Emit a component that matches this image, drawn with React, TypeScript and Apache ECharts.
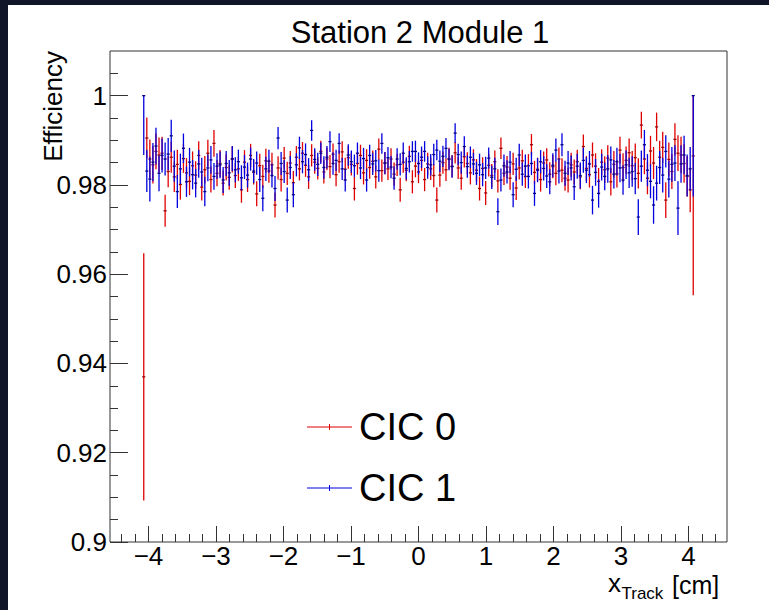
import React, { useEffect, useRef } from "react";
import * as echarts from "echarts";

const title = "Station 2 Module 1";
const seriesNames = ["CIC 0", "CIC 1"];
const seriesColors = ["#e00000", "#0000e0"];
const markColors = ["#9a0000", "#00008a"];

const binLo = -4.07;
const binHi = 4.07;

const xMajorTicks = [-4, -3, -2, -1, 0, 1, 2, 3, 4];
const yMajorTicks = [0.9, 0.92, 0.94, 0.96, 0.98, 1.0];

const cic0Eff = [
  0.9370, 0.9905, 0.9858, 0.9845, 0.9875, 0.9867, 0.9871, 0.9742, 0.9830, 0.9862,
  0.9818, 0.9846, 0.9801, 0.9859, 0.9827, 0.9808, 0.9843, 0.9822, 0.9866, 0.9795,
  0.9834, 0.9871, 0.9812, 0.9893, 0.9826, 0.9848, 0.9804, 0.9839, 0.9817, 0.9857,
  0.9821, 0.9836, 0.9789, 0.9851, 0.9812, 0.9866, 0.9828, 0.9780, 0.9843, 0.9819,
  0.9854, 0.9831, 0.9845, 0.9755, 0.9838, 0.9812, 0.9860, 0.9826, 0.9849, 0.9805,
  0.9862, 0.9836, 0.9871, 0.9844, 0.9818, 0.9866, 0.9851, 0.9837, 0.9875, 0.9829,
  0.9858, 0.9841, 0.9869, 0.9823, 0.9852, 0.9874, 0.9835, 0.9861, 0.9846, 0.9792,
  0.9848, 0.9866, 0.9827, 0.9855, 0.9839, 0.9853, 0.9818, 0.9880, 0.9832, 0.9849,
  0.9836, 0.9858, 0.9824, 0.9845, 0.9789, 0.9851, 0.9833, 0.9864, 0.9807, 0.9842,
  0.9829, 0.9855, 0.9812, 0.9847, 0.9836, 0.9821, 0.9766, 0.9822, 0.9850, 0.9834,
  0.9859, 0.9842, 0.9872, 0.9838, 0.9815, 0.9863, 0.9848, 0.9827, 0.9856, 0.9833,
  0.9792, 0.9837, 0.9782, 0.9844, 0.9821, 0.9852, 0.9809, 0.9882, 0.9826, 0.9840,
  0.9815, 0.9847, 0.9793, 0.9838, 0.9854, 0.9819, 0.9843, 0.9890, 0.9828, 0.9835,
  0.9812, 0.9849, 0.9856, 0.9824, 0.9841, 0.9826, 0.9858, 0.9833, 0.9815, 0.9811,
  0.9845, 0.9829, 0.9852, 0.9818, 0.9886, 0.9837, 0.9823, 0.9867, 0.9842, 0.9808,
  0.9851, 0.9834, 0.9860, 0.9807, 0.9846, 0.9825, 0.9878, 0.9839, 0.9855, 0.9872,
  0.9843, 0.9861, 0.9826, 0.9934, 0.9858, 0.9815, 0.9876, 0.9849, 0.9930, 0.9862,
  0.9884, 0.9766, 0.9857, 0.9830, 0.9902, 0.9871, 0.9867, 0.9848, 0.9819, 0.9789,
  0.9865,
];

const cic0Err = [
  0.0277, 0.0046, 0.0044, 0.0042, 0.0040, 0.0039, 0.0037, 0.0036, 0.0035, 0.0035,
  0.0034, 0.0033, 0.0034, 0.0032, 0.0033, 0.0031, 0.0032, 0.0031, 0.0032, 0.0030,
  0.0031, 0.0030, 0.0029, 0.0030, 0.0029, 0.0030, 0.0028, 0.0029, 0.0028, 0.0029,
  0.0028, 0.0027, 0.0029, 0.0027, 0.0028, 0.0026, 0.0027, 0.0028, 0.0027, 0.0026,
  0.0027, 0.0026, 0.0027, 0.0028, 0.0026, 0.0027, 0.0025, 0.0026, 0.0027, 0.0026,
  0.0025, 0.0026, 0.0025, 0.0026, 0.0027, 0.0025, 0.0026, 0.0025, 0.0024, 0.0026,
  0.0025, 0.0026, 0.0024, 0.0026, 0.0025, 0.0024, 0.0026, 0.0025, 0.0025, 0.0027,
  0.0025, 0.0024, 0.0026, 0.0025, 0.0025, 0.0024, 0.0026, 0.0024, 0.0025, 0.0025,
  0.0025, 0.0024, 0.0026, 0.0025, 0.0027, 0.0024, 0.0025, 0.0024, 0.0026, 0.0025,
  0.0025, 0.0024, 0.0026, 0.0025, 0.0025, 0.0026, 0.0028, 0.0026, 0.0025, 0.0025,
  0.0024, 0.0025, 0.0024, 0.0025, 0.0026, 0.0024, 0.0025, 0.0026, 0.0024, 0.0025,
  0.0027, 0.0025, 0.0027, 0.0025, 0.0026, 0.0025, 0.0026, 0.0024, 0.0026, 0.0025,
  0.0026, 0.0025, 0.0027, 0.0026, 0.0025, 0.0026, 0.0026, 0.0024, 0.0026, 0.0026,
  0.0027, 0.0026, 0.0026, 0.0027, 0.0026, 0.0027, 0.0026, 0.0027, 0.0028, 0.0028,
  0.0027, 0.0028, 0.0027, 0.0028, 0.0027, 0.0028, 0.0029, 0.0028, 0.0029, 0.0030,
  0.0029, 0.0030, 0.0029, 0.0031, 0.0030, 0.0031, 0.0030, 0.0032, 0.0031, 0.0032,
  0.0033, 0.0032, 0.0034, 0.0030, 0.0034, 0.0036, 0.0034, 0.0036, 0.0032, 0.0037,
  0.0035, 0.0040, 0.0038, 0.0039, 0.0036, 0.0040, 0.0041, 0.0043, 0.0045, 0.0050,
  0.0312,
];

const cic1Eff = [
  1.0000, 0.9831, 0.9813, 0.9851, 0.9887, 0.9826, 0.9866, 0.9858, 0.9869, 0.9910,
  0.9842, 0.9785, 0.9836, 0.9882, 0.9807, 0.9851, 0.9823, 0.9804, 0.9847, 0.9829,
  0.9785, 0.9838, 0.9856, 0.9819, 0.9842, 0.9845, 0.9811, 0.9848, 0.9827, 0.9859,
  0.9834, 0.9852, 0.9816, 0.9840, 0.9822, 0.9858, 0.9831, 0.9849, 0.9812, 0.9770,
  0.9836, 0.9853, 0.9821, 0.9792, 0.9905, 0.9848, 0.9830, 0.9766, 0.9839, 0.9778,
  0.9845, 0.9883, 0.9852, 0.9868, 0.9834, 0.9922, 0.9857, 0.9846, 0.9871, 0.9839,
  0.9862, 0.9897, 0.9848, 0.9855, 0.9893, 0.9836, 0.9811, 0.9867, 0.9852, 0.9843,
  0.9871, 0.9838, 0.9859, 0.9811, 0.9866, 0.9847, 0.9854, 0.9832, 0.9893, 0.9849,
  0.9861, 0.9840, 0.9815, 0.9858, 0.9846, 0.9871, 0.9837, 0.9852, 0.9875, 0.9875,
  0.9848, 0.9862, 0.9875, 0.9839, 0.9845, 0.9868, 0.9878, 0.9853, 0.9864, 0.9882,
  0.9857, 0.9841, 0.9916, 0.9868, 0.9850, 0.9886, 0.9841, 0.9862, 0.9847, 0.9826,
  0.9845, 0.9823, 0.9838, 0.9860, 0.9817, 0.9836, 0.9740, 0.9811, 0.9843, 0.9829,
  0.9851, 0.9778, 0.9835, 0.9867, 0.9824, 0.9842, 0.9819, 0.9848, 0.9781, 0.9833,
  0.9852, 0.9837, 0.9820, 0.9807, 0.9844, 0.9878, 0.9831, 0.9890, 0.9826, 0.9849,
  0.9838, 0.9796, 0.9842, 0.9821, 0.9855, 0.9833, 0.9847, 0.9766, 0.9828, 0.9781,
  0.9840, 0.9819, 0.9836, 0.9856, 0.9824, 0.9852, 0.9838, 0.9811, 0.9845, 0.9827,
  0.9830, 0.9814, 0.9728, 0.9842, 0.9890, 0.9833, 0.9808, 0.9755, 0.9804, 0.9839,
  0.9822, 0.9875, 0.9813, 0.9846, 0.9849, 0.9748, 0.9847, 0.9867, 0.9821, 0.9836,
  1.0000,
];

const cic1Err = [
  0.0133, 0.0047, 0.0050, 0.0043, 0.0041, 0.0040, 0.0038, 0.0037, 0.0036, 0.0036,
  0.0035, 0.0037, 0.0034, 0.0033, 0.0034, 0.0032, 0.0033, 0.0032, 0.0031, 0.0032,
  0.0033, 0.0030, 0.0031, 0.0030, 0.0029, 0.0030, 0.0029, 0.0028, 0.0029, 0.0028,
  0.0028, 0.0027, 0.0028, 0.0027, 0.0028, 0.0026, 0.0027, 0.0026, 0.0028, 0.0029,
  0.0027, 0.0026, 0.0027, 0.0028, 0.0025, 0.0026, 0.0026, 0.0028, 0.0026, 0.0028,
  0.0026, 0.0025, 0.0026, 0.0025, 0.0026, 0.0023, 0.0025, 0.0026, 0.0024, 0.0025,
  0.0025, 0.0023, 0.0025, 0.0024, 0.0023, 0.0025, 0.0026, 0.0024, 0.0025, 0.0025,
  0.0024, 0.0025, 0.0024, 0.0026, 0.0024, 0.0025, 0.0024, 0.0025, 0.0023, 0.0025,
  0.0024, 0.0025, 0.0026, 0.0024, 0.0025, 0.0024, 0.0025, 0.0024, 0.0023, 0.0024,
  0.0025, 0.0024, 0.0023, 0.0025, 0.0024, 0.0024, 0.0023, 0.0024, 0.0024, 0.0023,
  0.0024, 0.0025, 0.0022, 0.0024, 0.0025, 0.0023, 0.0025, 0.0024, 0.0025, 0.0026,
  0.0025, 0.0026, 0.0025, 0.0024, 0.0026, 0.0025, 0.0030, 0.0026, 0.0025, 0.0026,
  0.0025, 0.0028, 0.0026, 0.0025, 0.0026, 0.0026, 0.0027, 0.0026, 0.0028, 0.0027,
  0.0026, 0.0027, 0.0027, 0.0028, 0.0027, 0.0026, 0.0028, 0.0026, 0.0028, 0.0027,
  0.0028, 0.0030, 0.0028, 0.0029, 0.0028, 0.0029, 0.0029, 0.0032, 0.0030, 0.0032,
  0.0030, 0.0031, 0.0031, 0.0030, 0.0032, 0.0031, 0.0032, 0.0033, 0.0032, 0.0034,
  0.0034, 0.0035, 0.0040, 0.0035, 0.0033, 0.0036, 0.0038, 0.0042, 0.0039, 0.0037,
  0.0039, 0.0036, 0.0041, 0.0039, 0.0040, 0.0060, 0.0042, 0.0043, 0.0047, 0.0049,
  0.0226,
];

const FONT = "'Liberation Sans', Arial, Helvetica, sans-serif";

function buildMinor(lo: number, hi: number, step: number, majors: number[]) {
  const out: number[] = [];
  const n = Math.round((hi - lo) / step);
  for (let k = 0; k <= n; k++) {
    const v = +(lo + k * step).toFixed(4);
    if (!majors.some((m) => Math.abs(m - v) < 1e-6)) out.push(v);
  }
  return out;
}

export default function App() {
  const ref = useRef<HTMLDivElement>(null);

  useEffect(() => {
    if (!ref.current) return;
    const chart = echarts.init(ref.current, undefined, { renderer: "svg" });

    const effs = [cic0Eff, cic1Eff];
    const errs = [cic0Err, cic1Err];
    const n = cic0Eff.length;
    const step = (binHi - binLo) / (n - 1);

    const xMinor = buildMinor(-4.4, 4.4, 0.2, xMajorTicks);
    const yMinor = buildMinor(0.905, 1.005, 0.005, yMajorTicks);

    const gridLeft = 102;
    const gridTop = 46;
    const gridW = 617;
    const gridH = 491;

    const series = effs.map((eff, s) => ({
      type: "custom",
      name: seriesNames[s],
      xAxisIndex: 0,
      yAxisIndex: 0,
      clip: true,
      z: 2 + s,
      dimensions: ["x", "eff", "err"],
      encode: { x: 0, y: 1 },
      data: eff.map((v, i) => [binLo + i * step, v, errs[s][i]]),
      renderItem: (params: any, api: any) => {
        const x = api.value(0);
        const v = api.value(1);
        const e = api.value(2);
        const top = api.coord([x, Math.min(1, v + e)]);
        const bot = api.coord([x, v - e]);
        const c = api.coord([x, v]);
        const hw = api.size([step, 0])[0] / 2;
        return {
          type: "group",
          children: [
            {
              type: "line",
              shape: { x1: top[0], y1: top[1], x2: bot[0], y2: bot[1] },
              style: { stroke: seriesColors[s], lineWidth: 1.3 },
            },
            {
              type: "line",
              shape: { x1: c[0] - hw, y1: c[1], x2: c[0] + hw, y2: c[1] },
              style: { stroke: markColors[s], lineWidth: 1.3 },
            },
          ],
        };
      },
    }));

    const legendGraphics: any[] = [];
    seriesNames.forEach((name, s) => {
      const ly = 422 + s * 61;
      legendGraphics.push(
        {
          type: "line",
          shape: { x1: 299, y1: ly, x2: 344, y2: ly },
          style: { stroke: seriesColors[s], lineWidth: 1 },
        },
        {
          type: "line",
          shape: { x1: 321.5, y1: ly - 3, x2: 321.5, y2: ly + 3 },
          style: { stroke: seriesColors[s], lineWidth: 1 },
        },
        {
          type: "text",
          x: 351,
          y: ly,
          style: {
            text: name,
            font: `38px ${FONT}`,
            fill: "#000",
            align: "left",
            verticalAlign: "middle",
          },
        }
      );
    });

    const option: any = {
      animation: false,
      backgroundColor: "#ffffff",
      grid: {
        left: gridLeft,
        top: gridTop,
        width: gridW,
        height: gridH,
        show: true,
        borderColor: "#333",
        borderWidth: 1,
        backgroundColor: "transparent",
      },
      xAxis: [
        {
          type: "value",
          position: "bottom",
          min: -4.57,
          max: 4.57,
          axisLine: { show: false, onZero: false },
          splitLine: { show: false },
          axisTick: {
            show: true,
            inside: true,
            length: 16,
            customValues: xMajorTicks,
            lineStyle: { color: "#333", width: 1 },
          },
          axisLabel: {
            show: true,
            customValues: xMajorTicks,
            margin: 3,
            color: "#000",
            fontFamily: FONT,
            fontSize: 26,
            lineHeight: 22,
            formatter: (v: number) => (v < 0 ? "\u2212" + Math.abs(v) : String(v)),
          },
        },
        {
          type: "value",
          position: "bottom",
          min: -4.57,
          max: 4.57,
          axisLine: { show: false, onZero: false },
          splitLine: { show: false },
          axisTick: {
            show: true,
            inside: true,
            length: 8,
            customValues: xMinor,
            lineStyle: { color: "#333", width: 1 },
          },
          axisLabel: { show: false },
        },
      ],
      yAxis: [
        {
          type: "value",
          position: "left",
          min: 0.9,
          max: 1.01,
          axisLine: { show: false, onZero: false },
          splitLine: { show: false },
          axisTick: {
            show: true,
            inside: true,
            length: 18,
            customValues: yMajorTicks,
            lineStyle: { color: "#333", width: 1 },
          },
          axisLabel: {
            show: true,
            customValues: yMajorTicks,
            margin: 3,
            color: "#000",
            fontFamily: FONT,
            fontSize: 26,
            formatter: (v: number) => String(+v.toFixed(2)),
          },
        },
        {
          type: "value",
          position: "left",
          min: 0.9,
          max: 1.01,
          axisLine: { show: false, onZero: false },
          splitLine: { show: false },
          axisTick: {
            show: true,
            inside: true,
            length: 8,
            customValues: yMinor,
            lineStyle: { color: "#333", width: 1 },
          },
          axisLabel: { show: false },
        },
      ],
      series,
      graphic: [
        {
          type: "text",
          x: 412,
          y: 27.5,
          style: {
            text: title,
            font: `31px ${FONT}`,
            fill: "#000",
            align: "center",
            verticalAlign: "middle",
          },
        },
        {
          type: "text",
          x: 45,
          y: 46,
          rotation: Math.PI / 2,
          style: {
            text: "Efficiency",
            font: `26px ${FONT}`,
            fill: "#000",
            align: "right",
            verticalAlign: "middle",
          },
        },
        {
          type: "text",
          x: 600,
          y: 577.5,
          style: {
            text: "x",
            font: `26px ${FONT}`,
            lineHeight: 20,
            fill: "#000",
            align: "left",
            verticalAlign: "middle",
          },
        },
        {
          type: "text",
          x: 613.5,
          y: 588,
          style: {
            text: "Track",
            font: `17px ${FONT}`,
            lineHeight: 14,
            fill: "#000",
            align: "left",
            verticalAlign: "middle",
          },
        },
        {
          type: "text",
          x: 664,
          y: 579.5,
          style: {
            text: "[cm]",
            font: `25px ${FONT}`,
            lineHeight: 20,
            fill: "#000",
            align: "left",
            verticalAlign: "middle",
          },
        },
        ...legendGraphics,
      ],
    };

    chart.setOption(option);
    return () => chart.dispose();
  }, []);

  return (
    <div
      style={{
        position: "fixed",
        left: 0,
        top: 0,
        width: 769,
        height: 610,
        background: "#101627",
      }}
    >
      <div
        ref={ref}
        style={{
          position: "absolute",
          left: 8,
          top: 5,
          width: 761,
          height: 605,
          background: "#ffffff",
        }}
      />
    </div>
  );
}
